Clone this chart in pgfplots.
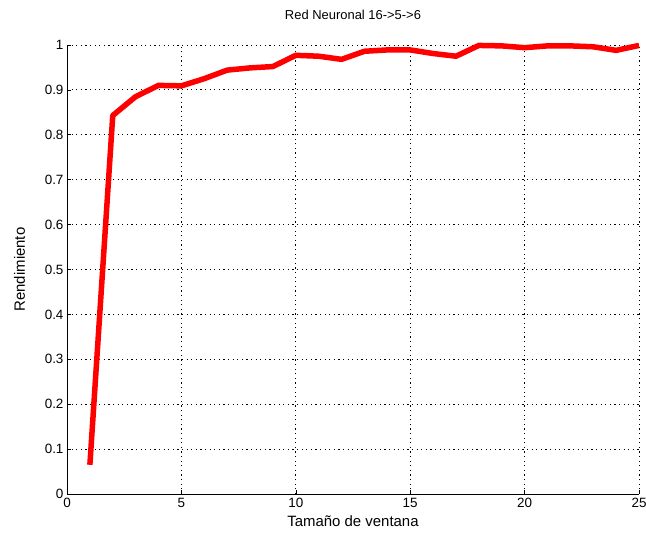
\documentclass[border=0pt]{standalone}
\usepackage{fontspec}
\setmainfont{Liberation Sans}
\usepackage{pgfplots}
\pgfplotsset{compat=1.18}
\begin{document}
\begin{tikzpicture}[x=1bp,y=1bp]
\path[use as bounding box] (-67,-45) rectangle (579,494);
\begin{axis}[
  at={(0,0)}, anchor=south west,
  scale only axis, width=572bp, height=449bp,
  xmin=0, xmax=25, ymin=0, ymax=1,
  xtick={0,5,...,25},
  ytick={0,0.1,...,1.0},
  yticklabels={0,0.1,0.2,0.3,0.4,0.5,0.6,0.7,0.8,0.9,1},
  axis x line=bottom, axis y line=left,
  axis line style={-, line width=1pt},
  tick align=inside,
  major tick length=4bp,
  tick style={black, line width=0.6pt},
  grid=major,
  grid style={black, line width=0.8pt, dash pattern=on 1.2bp off 3.4bp},
  /pgf/number format/assume math mode=true,
  tick label style={font=\fontsize{13.5}{15}\selectfont},
  xticklabel style={yshift=-1bp},
  label style={font=\fontsize{15}{17}\selectfont},
  xlabel={Tamaño de ventana},
  ylabel={Rendimiento},
  xlabel style={yshift=-1bp},
  ylabel style={yshift=13bp},
  title={Red Neuronal 16->5->6},
  title style={font=\fontsize{13}{15}\selectfont, yshift=16bp},
  clip=false,
]
\addplot[red, line width=5.5bp, line join=round] coordinates {
(1,0.065) (2,0.843) (3,0.885) (4,0.910) (5,0.909) (6,0.925) (7,0.944)
(8,0.949) (9,0.952) (10,0.977) (11,0.975) (12,0.968) (13,0.986)
(14,0.989) (15,0.989) (16,0.981) (17,0.975) (18,0.999) (19,0.998)
(20,0.994) (21,0.998) (22,0.998) (23,0.996) (24,0.988) (25,0.999)
};
\end{axis}
\end{tikzpicture}
\end{document}
